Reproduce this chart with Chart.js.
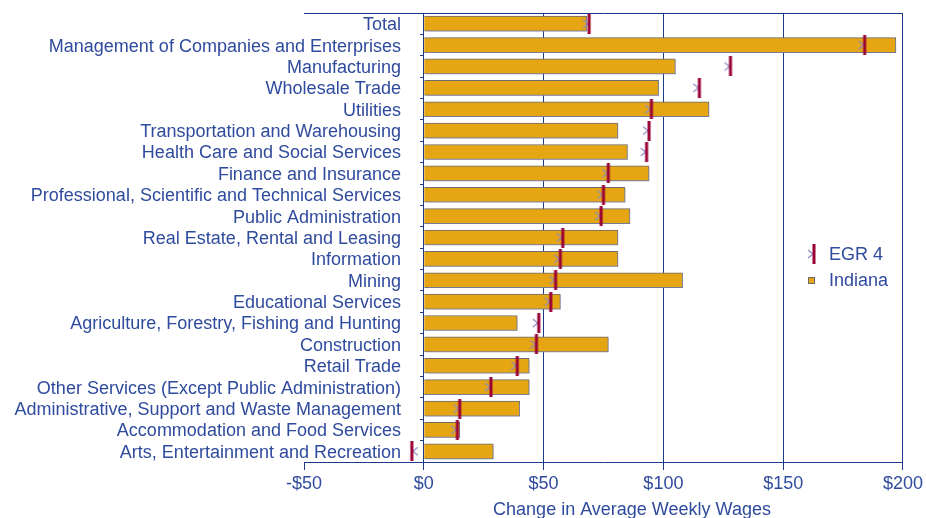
<!DOCTYPE html>
<html>
<head>
<meta charset="utf-8">
<title>Change in Average Weekly Wages</title>
<script src="https://cdn.jsdelivr.net/npm/chart.js@4.4.1/dist/chart.umd.min.js"></script>
<style>
  html, body { margin: 0; padding: 0; background: #fff; }
  #wrap { width: 926px; height: 518px; }
</style>
</head>
<body>
<div id="wrap"><canvas id="wages" width="926" height="518"></canvas></div>
<script>
// values (dollars per week)
const industries = [
  "Total",
  "Management of Companies and Enterprises",
  "Manufacturing",
  "Wholesale Trade",
  "Utilities",
  "Transportation and Warehousing",
  "Health Care and Social Services",
  "Finance and Insurance",
  "Professional, Scientific and Technical Services",
  "Public Administration",
  "Real Estate, Rental and Leasing",
  "Information",
  "Mining",
  "Educational Services",
  "Agriculture, Forestry, Fishing and Hunting",
  "Construction",
  "Retail Trade",
  "Other Services (Except Public Administration)",
  "Administrative, Support and Waste Management",
  "Accommodation and Food Services",
  "Arts, Entertainment and Recreation",
];
const indianaChange = [68, 197, 105, 98, 119, 81, 85, 94, 84, 86, 81, 81, 108, 57, 39, 77, 44, 44, 40, 15, 29];
const egr4Change = [69, 184, 128, 115, 95, 94, 93, 77, 75, 74, 58, 57, 55, 53, 48, 47, 39, 28, 15, 14, -5];
const xTicks = [-50, 0, 50, 100, 150, 200];
const axisTitle = "Change in Average Weekly Wages";

const INK = "#2f4b9d";
const LINE = "#1d3a8a";
const GOLD = "#e6a512";
const BAR_EDGE = "#6b6b6b";
const WINE = "#9a0034";
const CHEVRON = "#8e8ec4";
const FONT = '"Liberation Sans", Arial, sans-serif';
const LABEL_SIZE = 18;

// category names end ~23px left of the $0 line, i.e. 97px right of the plot's left edge;
// mirrored labels are placed at (axis right + padding + widest), so work the padding out
const measurer = document.createElement("canvas").getContext("2d");
measurer.font = LABEL_SIZE + "px " + FONT;
const widestLabel = Math.max(...industries.map((t) => measurer.measureText(t).width));
const labelPadding = 97 - widestLabel;

// EGR 4 marker: thin wine bar with a half "x" on one side
function makeMarker(flip) {
  const c = document.createElement("canvas");
  c.width = 16;
  c.height = 20;
  const g = c.getContext("2d");
  g.strokeStyle = CHEVRON;
  g.lineWidth = 1.3;
  g.beginPath();
  if (flip) {
    g.moveTo(14, 6); g.lineTo(9, 10); g.lineTo(14, 14);
  } else {
    g.moveTo(2, 6); g.lineTo(7, 10); g.lineTo(2, 14);
  }
  g.stroke();
  g.fillStyle = WINE;
  g.fillRect(6.5, 0, 3, 20);
  return c;
}
const markerRight = makeMarker(false);
const markerLeft = makeMarker(true);

const dollars = (v) => (v < 0 ? "-$" + Math.abs(v) : "$" + v);

// soft blue-grey drop shadow under the Indiana bars
const barShadow = {
  id: "barShadow",
  beforeDatasetDraw(chart, args) {
    if (args.index !== 1) return;
    const ctx = chart.ctx;
    ctx.save();
    ctx.shadowColor = "rgba(130,140,190,0.55)";
    ctx.shadowOffsetX = 2;
    ctx.shadowOffsetY = 2;
    ctx.shadowBlur = 1;
  },
  afterDatasetDraw(chart, args) {
    if (args.index === 1) chart.ctx.restore();
  },
};

// legend sits inside the plot, between the $150 and $200 grid lines
const sideLegend = {
  id: "sideLegend",
  afterDraw(chart) {
    const ctx = chart.ctx;
    const [egr, ind] = chart.data.datasets;
    ctx.save();
    ctx.drawImage(markerRight, 806, 244);
    ctx.fillStyle = GOLD;
    ctx.fillRect(808.5, 277.5, 6, 6);
    ctx.strokeStyle = BAR_EDGE;
    ctx.lineWidth = 1;
    ctx.strokeRect(808.5, 277.5, 6, 6);
    ctx.font = LABEL_SIZE + "px " + FONT;
    ctx.fillStyle = INK;
    ctx.textBaseline = "middle";
    ctx.textAlign = "left";
    ctx.fillText(egr.label, 829, 255);
    ctx.fillText(ind.label, 829, 281);
    ctx.restore();
  },
};

// x axis title is set right of the plot centre in the original
const xTitle = {
  id: "xTitle",
  afterDraw(chart) {
    const ctx = chart.ctx;
    ctx.save();
    ctx.font = LABEL_SIZE + "px " + FONT;
    ctx.fillStyle = INK;
    ctx.textAlign = "center";
    ctx.textBaseline = "middle";
    ctx.fillText(axisTitle, 632, 510);
    ctx.restore();
  },
};

new Chart(document.getElementById("wages"), {
  type: "bar",
  data: {
    labels: industries,
    datasets: [
      {
        type: "line",
        label: "EGR 4",
        data: egr4Change,
        indexAxis: "y",
        xAxisID: "x",
        yAxisID: "y",
        showLine: false,
        pointRadius: 6,
        pointStyle: (c) => (c.raw < 0 ? markerLeft : markerRight),
      },
      {
        label: "Indiana",
        data: indianaChange,
        xAxisID: "x",
        yAxisID: "y",
        backgroundColor: GOLD,
        borderColor: BAR_EDGE,
        borderWidth: 1,
        barThickness: 15,
      },
    ],
  },
  options: {
    indexAxis: "y",
    responsive: false,
    animation: false,
    events: [],
    layout: { padding: { left: 10, right: 23, top: 13, bottom: 0 } },
    scales: {
      x: {
        axis: "x",
        type: "linear",
        position: "bottom",
        min: -50,
        max: 200,
        afterBuildTicks: (s) => { s.ticks = xTicks.map((v) => ({ value: v })); },
        afterFit: (s) => { s.height = 56; },
        grid: {
          color: (c) => (c.tick && c.tick.value === -50 ? "rgba(0,0,0,0)" : LINE),
          tickColor: LINE,
          tickLength: 8,
          lineWidth: 1,
        },
        border: { color: LINE, width: 1 },
        ticks: {
          color: INK,
          font: { family: FONT, size: LABEL_SIZE },
          padding: 3,
          callback: (v) => dollars(v),
        },
      },
      x2: {
        axis: "x",
        type: "linear",
        position: "top",
        min: -50,
        max: 200,
        grid: { display: false, drawTicks: false },
        ticks: { display: false },
        border: { display: true, color: LINE, width: 1 },
      },
      y: {
        axis: "y",
        type: "category",
        position: "left",
        offset: true,
        afterFit: (s) => { s.width = 294; },
        grid: { display: false, drawTicks: false },
        border: { display: false },
        ticks: {
          color: INK,
          font: { family: FONT, size: LABEL_SIZE },
          mirror: true,
          crossAlign: "far",
          padding: labelPadding,
          labelOffset: 1.5,
          autoSkip: false,
        },
      },
      y0: {
        axis: "y",
        type: "category",
        position: { x: 0 },
        offset: true,
        grid: { offset: true, drawOnChartArea: false, tickLength: 3, color: LINE },
        border: { color: LINE, width: 1 },
        ticks: { display: false },
      },
    },
    plugins: {
      legend: { display: false },
      tooltip: { enabled: false },
    },
  },
  plugins: [barShadow, sideLegend, xTitle],
});
</script>
</body>
</html>
